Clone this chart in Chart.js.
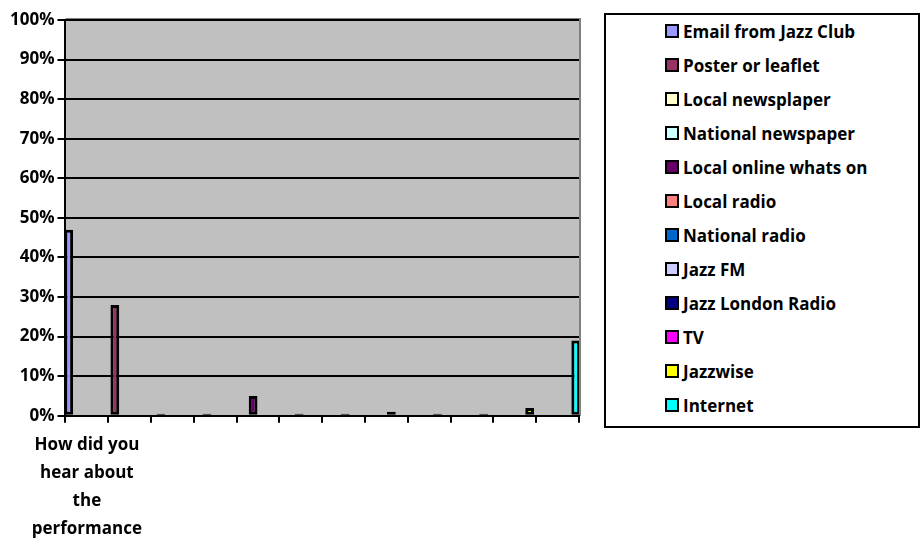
<!DOCTYPE html>
<html>
<head>
<meta charset="utf-8">
<script src="https://cdn.jsdelivr.net/npm/chart.js@4.4.1/dist/chart.umd.min.js"></script>
<style>
  html, body { margin: 0; padding: 0; background: #fff; }
  #wrap { position: relative; width: 922px; height: 540px; }
  #legend {
    position: absolute; left: 604px; top: 13px; width: 312px; height: 411px;
    border: 2px solid #000; background: #fff; box-sizing: content-box;
    font-family: "Open Sans", sans-serif; font-weight: bold; font-size: 17px;
  }
  #legend .item { position: absolute; left: 59px; display: flex; align-items: center; height: 22px; }
  #legend .box { width: 10px; height: 10px; border: 2px solid #000; margin-right: 4px; }
</style>
</head>
<body>
<div id="wrap">
  <canvas id="chart" width="922" height="540"></canvas>
  <div id="legend"></div>
</div>
<script>
// 그래프 값 (%)
const CATEGORY = ["How did you", "hear about", "the", "performance"];
const SERIES = [
    "Email from Jazz Club", "Poster or leaflet", "Local newsplaper", "National newspaper",
    "Local online whats on", "Local radio", "National radio", "Jazz FM",
    "Jazz London Radio", "TV", "Jazzwise", "Internet",
];
const VALUES = [47, 28, 0, 0, 5, 0, 0, 1, 0, 0, 2, 19];
const COLORS = [
    "#9999FF", "#993366", "#FFFFCC", "#CCFFFF", "#660066", "#FF8080",
    "#0066CC", "#CCCCFF", "#000080", "#FF00FF", "#FFFF00", "#00FFFF",
];
const Y_TICKS = [0, 10, 20, 30, 40, 50, 60, 70, 80, 90, 100];

const FONT = { family: "'Open Sans', sans-serif", weight: "bold", size: 17 };

// 회색 플롯 배경
const plotBg = {
    id: "plotBg",
    beforeDraw(chart) {
        const { ctx, chartArea: a } = chart;
        ctx.save();
        ctx.fillStyle = "#C0C0C0";
        ctx.fillRect(a.left, a.top, a.right - a.left, a.bottom - a.top);
        ctx.strokeStyle = "#808080";
        ctx.lineWidth = 2;
        ctx.beginPath();
        ctx.moveTo(a.left, a.top - 1);
        ctx.lineTo(a.right + 1, a.top - 1);
        ctx.lineTo(a.right + 1, a.bottom);
        ctx.stroke();
        ctx.restore();
    },
};

const datasets = SERIES.map((name, i) => ({
    label: name,
    data: [VALUES[i]],
    backgroundColor: COLORS[i],
    borderColor: "#000",
    borderWidth: 3,
    borderSkipped: false,
    minBarLength: 2,
    xAxisID: "x2",
    categoryPercentage: 1.077,
    barPercentage: 0.19,
}));

const chart = new Chart(document.getElementById("chart"), {
    type: "bar",
    data: { labels: [CATEGORY.join(" ")], datasets },
    options: {
        responsive: false,
        animation: false,
        layout: { padding: { top: 20, right: 343, left: 7, bottom: -11 } },
        plugins: { legend: { display: false }, tooltip: { enabled: false } },
        scales: {
            x: {
                type: "category",
                labels: [CATEGORY, "", "", "", "", "", "", "", "", "", "", ""],
                offset: true,
                grid: { offset: true, drawOnChartArea: false, color: "#000", lineWidth: 2, tickLength: 7 },
                border: { color: "#000", width: 2 },
                ticks: { color: "#000", font: { ...FONT, lineHeight: 1.65 }, maxRotation: 0, autoSkip: false, padding: 8 },
            },
            x2: { type: "category", display: false, offset: true },
            y: {
                min: 0,
                max: 100,
                afterBuildTicks: (s) => { s.ticks = Y_TICKS.map((v) => ({ value: v })); },
                grid: { color: "#000", lineWidth: 2, tickLength: 8 },
                border: { color: "#000", width: 2 },
                ticks: { color: "#000", font: FONT, padding: 3, callback: (v) => v + "%" },
            },
        },
    },
    plugins: [plotBg],
});

// 범례 (HTML)
const legendEl = document.getElementById("legend");
SERIES.forEach((name, i) => {
    const item = document.createElement("div");
    item.className = "item";
    item.style.top = (5 + i * 34) + "px";
    item.innerHTML = `<span class="box" style="background:${COLORS[i]}"></span><span>${name}</span>`;
    legendEl.appendChild(item);
});
</script>
</body>
</html>
